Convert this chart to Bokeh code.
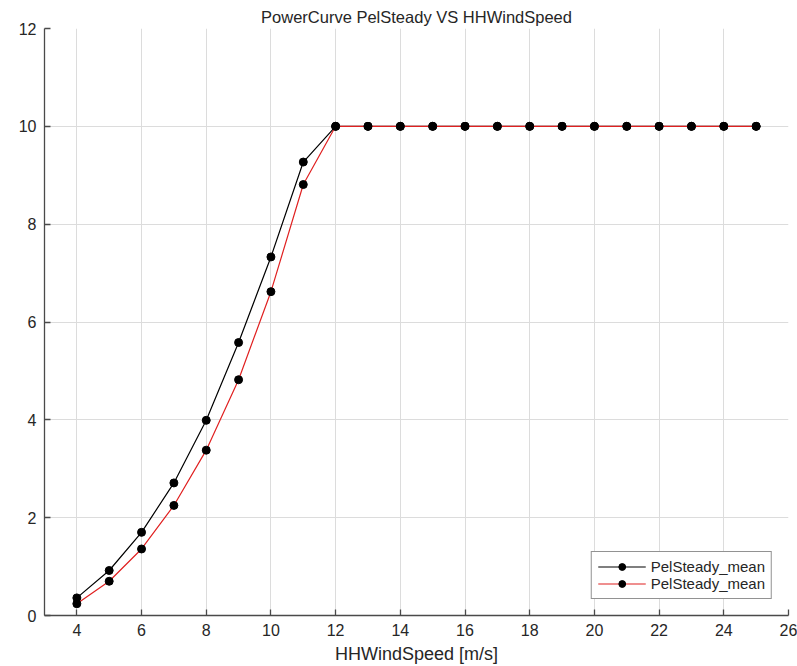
from bokeh.plotting import figure
from bokeh.models import Range1d, FixedTicker, Legend, LegendItem
from bokeh.embed import file_html
from bokeh.resources import INLINE

# ---- data ----
wind_speed = [4, 5, 6, 7, 8, 9, 10, 11, 12, 13, 14, 15, 16, 17, 18, 19, 20, 21, 22, 23, 24, 25]
pel_steady_black = [0.36, 0.92, 1.70, 2.71, 3.99, 5.58, 7.33, 9.27, 10.0, 10.0, 10.0, 10.0,
                    10.0, 10.0, 10.0, 10.0, 10.0, 10.0, 10.0, 10.0, 10.0, 10.0]
pel_steady_red = [0.24, 0.70, 1.36, 2.25, 3.38, 4.82, 6.62, 8.81, 10.0, 10.0, 10.0, 10.0,
                  10.0, 10.0, 10.0, 10.0, 10.0, 10.0, 10.0, 10.0, 10.0, 10.0]
x_ticks = [4, 6, 8, 10, 12, 14, 16, 18, 20, 22, 24, 26]
y_ticks = [0, 2, 4, 6, 8, 10, 12]
series_label = "PelSteady_mean"
title_text = "PowerCurve PelSteady VS HHWindSpeed"
x_label = "HHWindSpeed [m/s]"

FONT = "Liberation Sans"
AX = "#262626"

p = figure(width=797, height=666, output_backend="svg", toolbar_location=None,
           x_range=Range1d(3, 26), y_range=Range1d(0, 12),
           min_border_left=44, min_border_right=9, min_border_top=28, min_border_bottom=50)
p.outline_line_color = None
p.background_fill_color = "white"
p.border_fill_color = "white"

p.title.text = title_text
p.title.align = "center"
p.title.text_font = FONT
p.title.text_font_size = "16.5px"
p.title.text_font_style = "normal"
p.title.text_color = AX
p.title.standoff = 6

for ax in (p.xaxis, p.yaxis):
    ax.axis_line_color = "#4a4a4a"
    ax.axis_line_width = 1.3
    ax.major_tick_line_color = "#4a4a4a"
    ax.major_tick_line_width = 1.3
    ax.major_tick_in = 6
    ax.major_tick_out = 0
    ax.minor_tick_line_color = None
    ax.major_label_text_font = FONT
    ax.major_label_text_font_size = "16px"
    ax.major_label_text_color = AX

p.xaxis.ticker = FixedTicker(ticks=x_ticks)
p.yaxis.ticker = FixedTicker(ticks=y_ticks)
p.xaxis.major_label_standoff = 8
p.yaxis.major_label_standoff = 8
p.xaxis.axis_label = x_label
p.xaxis.axis_label_text_font = FONT
p.xaxis.axis_label_text_font_size = "18px"
p.xaxis.axis_label_text_font_style = "normal"
p.xaxis.axis_label_text_color = AX
p.xaxis.axis_label_standoff = 5

p.xgrid.ticker = FixedTicker(ticks=x_ticks)
p.ygrid.ticker = FixedTicker(ticks=y_ticks)
p.grid.grid_line_color = "#dcdcdc"
p.grid.grid_line_width = 1

l1 = p.line(wind_speed, pel_steady_black, line_color="black", line_width=1.2)
m1 = p.scatter(wind_speed, pel_steady_black, marker="circle", size=8,
               fill_color="black", line_color="black")
l2 = p.line(wind_speed, pel_steady_red, line_color="#e02020", line_width=1.2)
m2 = p.scatter(wind_speed, pel_steady_red, marker="circle", size=8,
               fill_color="black", line_color="black")

legend = Legend(items=[LegendItem(label=series_label, renderers=[l1, m1]),
                       LegendItem(label=series_label, renderers=[l2, m2])],
                location="bottom_right")
legend.margin = 16
legend.padding = 6
legend.spacing = 0
legend.glyph_width = 48
legend.glyph_height = 17
legend.label_height = 17
legend.label_standoff = 5
legend.label_text_font = FONT
legend.label_text_font_size = "15px"
legend.label_text_color = AX
legend.border_line_color = AX
legend.border_line_width = 1
legend.background_fill_color = "white"
legend.background_fill_alpha = 1
p.add_layout(legend, "center")

open("out.html", "w").write(file_html(p, INLINE))
